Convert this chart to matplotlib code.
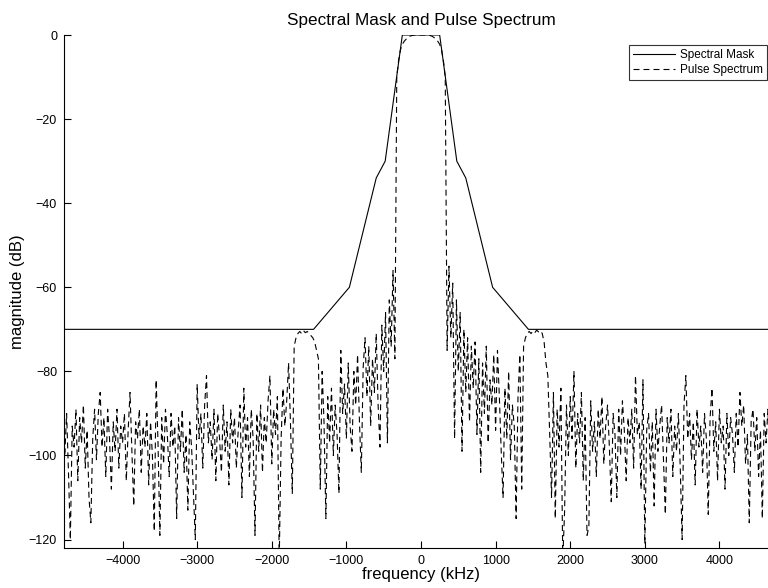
import numpy as np
import matplotlib
matplotlib.use("Agg")
import matplotlib.pyplot as plt

plt.rcParams['font.family'] = ['Liberation Sans Narrow', 'Liberation Sans', 'DejaVu Sans']
plt.rcParams['lines.scale_dashes'] = False

# Spectral mask breakpoints (kHz, dB)
mask_freq = [-4800, -1440, -960, -600, -480, -250, 250, 480, 600, 960, 1440, 4800]
mask_db = [-70, -70, -60, -34, -30, 0, 0, -30, -34, -60, -70, -70]

# Pulse spectrum, sampled every 25 kHz; each block lists its starting frequency
STEP = 25

left_noise_start = -4800
left_noise = [
    -86, -100, -90, -104, -120, -93, -98, -89, -106, -91, -97, -88, -103, -94, -110, -116, -96, -89, -101, -90,
    -85, -98, -91, -105, -89, -96, -108, -92, -99, -89, -103, -93, -97, -90, -106, -94, -85, -99, -112, -92,
    -96, -89, -104, -93, -98, -90, -107, -92, -100, -118, -82, -97, -119, -91, -102, -89, -95, -105, -90, -98,
    -93, -115, -91, -99, -89, -104, -95, -113, -92, -98, -109, -120, -83, -96, -90, -103, -88, -81, -97, -92,
    -101, -89, -106, -90, -96, -104, -88, -99, -92, -107, -89, -97, -91, -103, -94, -88, -110, -84, -98, -91,
    -105, -89, -96, -119, -90, -99, -88, -104, -91, -97, -87, -81, -102, -89, -95, -86, -125, -96, -84, -93,
]

left_sidelobe_start = -1800
left_sidelobe = [-87, -78, -92, -109, -74, -72, -71, -70.5, -71, -70.3, -70.8, -70.5, -71, -71.5, -72, -73, -75, -77]

left_inner_start = -1350
left_inner = [
    -108, -80, -92, -115, -86, -97, -84, -100, -88, -95, -109, -75, -90, -83, -96, -78, -93, -99, -80, -88,
    -76, -92, -104, -79, -72, -86, -74, -93, -77, -85, -71, -88, -98, -69, -80, -66, -97, -63, -74, -56,
]

main_lobe_start = -350
main_lobe = [
    -77, -10, -6, -3.5, -2.2, -1.5, -1.0, -0.6, -0.3, -0.15, -0.05, 0, 0, 0, 0,
    0, 0, 0, -0.05, -0.15, -0.3, -0.6, -1.0, -1.5, -2.2, -3.5, -6, -10, -75,
]

right_inner_start = 375
right_inner = [
    -55, -72, -59, -96, -63, -80, -66, -99, -70, -85, -72, -92, -74, -84, -73, -95, -77, -104, -78, -90,
    -74, -97, -82, -88, -76, -94, -75, -86, -99, -110, -84, -96, -80, -101, -88, -93, -115, -86, -76, -108,
]

right_sidelobe_start = 1375
right_sidelobe = [-74, -72, -71, -70.5, -71, -70.4, -70.8, -70.2, -70.6, -70.3, -71, -73, -78]

right_noise_start = 1700
right_noise = [
    -81, -95, -110, -85, -115, -89, -98, -84, -125, -113, -88, -100, -86, -96, -80, -103, -90, -97, -85, -106,
    -91, -119, -117, -87, -99, -92, -105, -89, -96, -86, -102, -93, -88, -98, -111, -90, -95, -110, -89, -100,
    -87, -94, -106, -91, -97, -89, -103, -81, -95, -92, -108, -82, -121, -94, -90, -104, -92, -112, -89, -99,
    -93, -88, -101, -114, -91, -97, -89, -105, -93, -99, -90, -103, -120, -88, -81, -96, -90, -101, -92, -107,
    -89, -98, -93, -104, -90, -96, -114, -91, -84, -99, -92, -106, -89, -97, -93, -108, -90, -100, -91, -95,
    -104, -90, -98, -85, -93, -88, -102, -95, -116, -92, -89, -99, -91, -105, -94, -115, -90, -97, -89, -101,
    -93, -96, -90, -103, -95,
]

blocks = [
    (left_noise_start, left_noise),
    (left_sidelobe_start, left_sidelobe),
    (left_inner_start, left_inner),
    (main_lobe_start, main_lobe),
    (right_inner_start, right_inner),
    (right_sidelobe_start, right_sidelobe),
    (right_noise_start, right_noise),
]
pulse_freq = np.concatenate([start + STEP * np.arange(len(vals)) for start, vals in blocks])
pulse_db = np.concatenate([np.asarray(vals, dtype=float) for _, vals in blocks])

fig = plt.figure(figsize=(7.68, 5.88), dpi=100)
ax = fig.add_axes([64 / 768, 40 / 588, 714 / 768, 513 / 588])

ax.plot(mask_freq, mask_db, color='black', linewidth=0.8, label='Spectral Mask')
ax.plot(pulse_freq, pulse_db, color='black', linewidth=0.8, dashes=(4.3, 2.9),
        label='Pulse Spectrum')

ax.set_xlim(-4785, 4785)
ax.set_ylim(-122, 0)
ax.set_xticks([-4000, -3000, -2000, -1000, 0, 1000, 2000, 3000, 4000])
ax.set_yticks([-120, -100, -80, -60, -40, -20, 0])
minus_fmt = matplotlib.ticker.FuncFormatter(lambda v, p: f"{int(v)}".replace('-', '\u2212'))
ax.xaxis.set_major_formatter(minus_fmt)
ax.yaxis.set_major_formatter(minus_fmt)

for side in ('top', 'right'):
    ax.spines[side].set_visible(False)
for side in ('left', 'bottom'):
    ax.spines[side].set_linewidth(0.8)
ax.tick_params(direction='in', length=5, width=0.8, labelsize=9, pad=5)

ax.set_title('Spectral Mask and Pulse Spectrum', fontsize=12.3, pad=7)
ax.set_xlabel('frequency (kHz)', fontsize=12, labelpad=0)
ax.set_ylabel('magnitude (dB)', fontsize=12, labelpad=3)

leg = ax.legend(loc='upper right', bbox_to_anchor=(0.985, 0.98),
                fontsize=8.5, frameon=True, fancybox=False, borderpad=0.35,
                handlelength=3.6, handletextpad=0.4, labelspacing=0.2, borderaxespad=0)
leg.get_frame().set_edgecolor('black')
leg.get_frame().set_linewidth(0.8)

fig.savefig('out.png', dpi=100)
